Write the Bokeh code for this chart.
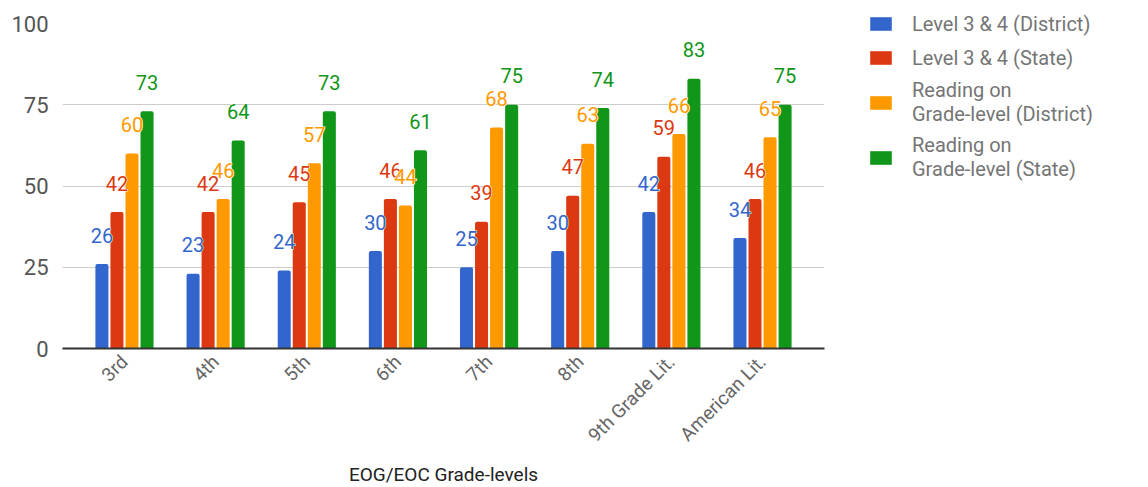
import math
from bokeh.plotting import figure
from bokeh.models import ColumnDataSource, Legend, LegendItem, FixedTicker
from bokeh.transform import dodge
from bokeh.core.properties import value
from bokeh.embed import file_html
from bokeh.resources import INLINE

categories = ["3rd", "4th", "5th", "6th", "7th", "8th", "9th Grade Lit.", "American Lit."]
district_l34 = [26, 23, 24, 30, 25, 30, 42, 34]
state_l34 = [42, 42, 45, 46, 39, 47, 59, 46]
reading_district = [60, 46, 57, 44, 68, 63, 66, 65]
reading_state = [73, 64, 73, 61, 75, 74, 83, 75]
series_names = ["Level 3 & 4 (District)", "Level 3 & 4 (State)",
                "Reading on\nGrade-level (District)", "Reading on\nGrade-level (State)"]
y_ticks = [0, 25, 50, 75, 100]
x_title = "EOG/EOC Grade-levels"

colors = ["#3366cc", "#dc3912", "#ff9900", "#109618"]
series = [district_l34, state_l34, reading_district, reading_state]
FONT = "Roboto"

p = figure(x_range=categories, y_range=(0, 100), frame_width=762, frame_height=325,
           min_border_left=62, min_border_top=23, min_border_right=315, min_border_bottom=130,
           output_backend="svg", toolbar_location=None, outline_line_color=None)
p.x_range.range_padding = 0.18
p.x_range.range_padding_units = "absolute"

data = {"cat": categories}
for i, s in enumerate(series):
    data[f"s{i}"] = s
    data[f"t{i}"] = [str(v) for v in s]
src = ColumnDataSource(data)

pitch = 0.165
items = []
for i in range(4):
    off = (i - 1.5) * pitch
    r = p.vbar(x=dodge("cat", off, range=p.x_range), top=f"s{i}", width=0.143, source=src,
               fill_color=colors[i], line_color=None, border_radius=(2, 2, 0, 0))
    items.append(LegendItem(label=series_names[i], renderers=[r]))
for i in range(4):
    off = (i - 1.5) * pitch
    common = dict(x=dodge("cat", off, range=p.x_range), y=f"s{i}", text=f"t{i}", source=src,
                  text_align="center", text_baseline="middle", y_offset=-29,
                  text_font=value(FONT), text_font_size="20px")
    # white halo underneath, coloured text on top
    p.text(text_color="white", text_outline_color="white", **common)
    p.text(text_color=colors[i], **common)

p.xgrid.grid_line_color = None
p.ygrid.grid_line_color = "#cccccc"
p.ygrid.grid_line_width = 1

p.yaxis.ticker = FixedTicker(ticks=y_ticks)
p.yaxis.axis_line_color = None
p.yaxis.major_tick_line_color = None
p.yaxis.minor_tick_line_color = None
p.yaxis.major_label_text_font = FONT
p.yaxis.major_label_text_font_size = "22px"
p.yaxis.major_label_text_color = "#555555"
p.yaxis.major_label_standoff = 8

p.xaxis.axis_line_color = "#333333"
p.xaxis.axis_line_width = 2
p.xaxis.major_tick_line_color = None
p.xaxis.minor_tick_line_color = None
p.xaxis.major_label_orientation = math.pi / 4
p.xaxis.major_label_text_font = FONT
p.xaxis.major_label_text_font_size = "19px"
p.xaxis.major_label_text_color = "#666666"
p.xaxis.major_label_standoff = 4
p.xaxis.axis_label = x_title
p.xaxis.axis_label_text_font = FONT
p.xaxis.axis_label_text_font_style = "normal"
p.xaxis.axis_label_text_font_size = "19px"
p.xaxis.axis_label_text_color = "#222222"
p.xaxis.axis_label_standoff = 5

legend = Legend(items=items, location=(43, 167), orientation="vertical",
                glyph_width=27, glyph_height=17, label_standoff=18,
                label_text_font=FONT, label_text_font_size="20px",
                label_text_color="#757575", label_text_line_height=0.95,
                label_height=27, spacing=7, padding=0, margin=0,
                border_line_color=None, background_fill_alpha=0)
p.add_layout(legend, "right")

open("out.html", "w").write(file_html(p, INLINE))
